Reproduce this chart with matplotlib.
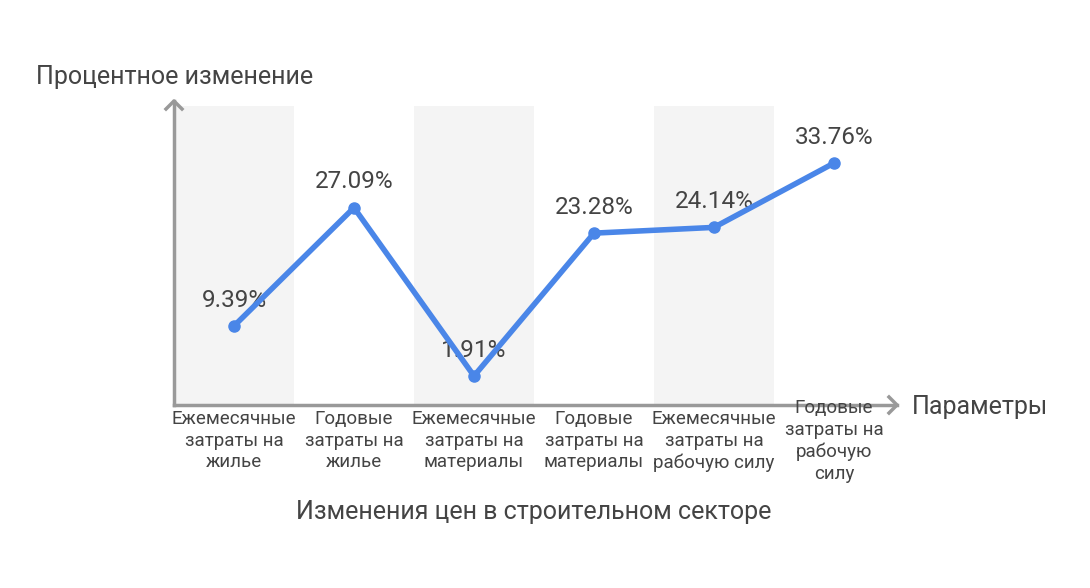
import numpy as np
import matplotlib.pyplot as plt

plt.rcParams['font.family'] = ['Roboto', 'DejaVu Sans']

categories = [
    "Ежемесячные\nзатраты на\nжилье",
    "Годовые\nзатраты на\nжилье",
    "Ежемесячные\nзатраты на\nматериалы",
    "Годовые\nзатраты на\nматериалы",
    "Ежемесячные\nзатраты на\nрабочую силу",
    "Годовые\nзатраты на\nрабочую\nсилу",
]
values = [9.39, 27.09, 1.91, 23.28, 24.14, 33.76]
value_labels = ["9.39%", "27.09%", "1.91%", "23.28%", "24.14%", "33.76%"]

W, H = 1090, 588
text_col = "#444444"
axis_col = "#999999"
line_col = "#4a86e8"

fig = plt.figure(figsize=(W / 100, H / 100), dpi=100)
ax = fig.add_axes([174 / W, (H - 405) / H, 720 / W, 299 / H])
x = np.arange(len(values))

for i in x:
    if i % 2 == 0:
        ax.axvspan(i - 0.5, i + 0.5, color="#f4f4f4", lw=0, zorder=0)

ax.plot(x, values, color=line_col, lw=4, marker="o", ms=8, zorder=3,
        solid_capstyle="round")
for xi, v, lab in zip(x, values, value_labels):
    ax.annotate(lab, (xi, v), xytext=(0, 14), textcoords="offset points",
                ha="center", va="baseline", fontsize=17.5, color=text_col, zorder=2)

ax.set_xlim(-0.5, 5.5)
ax.set_ylim(-2.43, 42.3)
for s in ax.spines.values():
    s.set_visible(False)
ax.set_xticks([])
ax.set_yticks([])

# axis arrows
fig.add_artist(plt.Line2D([174 / W, 174 / W], [(H - 405) / H, (H - 101) / H],
                          color=axis_col, lw=2.5, transform=fig.transFigure))
fig.add_artist(plt.Line2D([174 / W, 897 / W], [(H - 405) / H, (H - 405) / H],
                          color=axis_col, lw=2.5, transform=fig.transFigure))
fig.add_artist(plt.Line2D([166 / W, 174 / W, 182 / W],
                          [(H - 109) / H, (H - 101) / H, (H - 109) / H],
                          color=axis_col, lw=2.5, transform=fig.transFigure))
fig.add_artist(plt.Line2D([889 / W, 897 / W, 889 / W],
                          [(H - 397) / H, (H - 405) / H, (H - 413) / H],
                          color=axis_col, lw=2.5, transform=fig.transFigure))

# category labels
for xi, cat in zip(x, categories):
    top = 410 if cat.count("\n") < 3 else 399
    px = 174 + 120 * xi + 60
    fig.text(px / W, (H - top) / H, cat, ha="center", va="top",
             fontsize=13.5, color=text_col, linespacing=1.26)

fig.text(36 / W, (H - 77) / H, "Процентное изменение", ha="left", va="center",
         fontsize=18, color=text_col)
fig.text(912 / W, (H - 407) / H, "Параметры", ha="left", va="center",
         fontsize=18, color=text_col)
fig.text(534 / W, (H - 512) / H, "Изменения цен в строительном секторе",
         ha="center", va="center", fontsize=18, color=text_col)

fig.savefig("out.png", dpi=100)
